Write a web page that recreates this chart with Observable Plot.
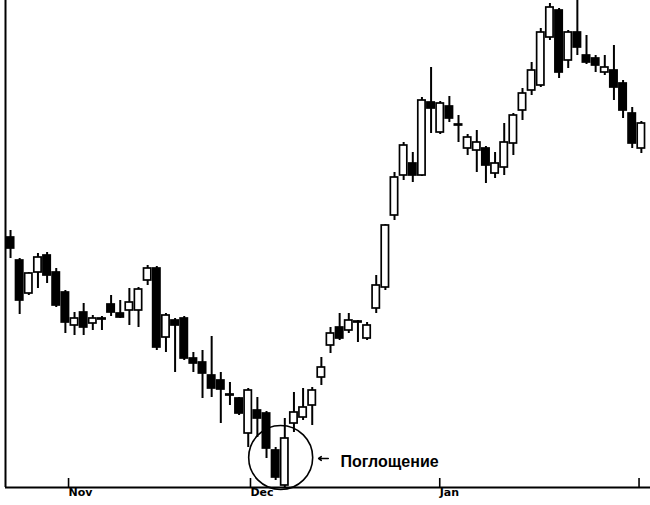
<!DOCTYPE html>
<html>
<head>
<meta charset="utf-8">
<script src="https://cdn.jsdelivr.net/npm/d3@7"></script>
<script src="https://cdn.jsdelivr.net/npm/@observablehq/plot@0.6"></script>
<style>
  html, body { margin: 0; padding: 0; background: #fff; }
  #chart svg { display: block; }
</style>
</head>
<body>
<div id="chart"></div>
<script>
// Daily candles (arbitrary price units)
const openP  = [263,240,207,228,245,228,208,175,188,177,181,196,187,190,190,220,232,163,180,182,142,138,125,120,105,102,67,90,87,50,15,77,83,95,123,155,173,170,178,162,192,213,285,325,337,325,398,368,394,375,352,350,352,327,333,357,390,410,415,463,490,440,468,445,442,428,430,417,387,352];
const highP  = [270,242,228,247,248,232,210,188,197,185,184,205,200,212,213,235,234,187,182,184,148,150,164,128,118,103,112,103,89,53,82,108,112,113,143,173,187,187,180,178,225,276,328,358,348,403,433,399,404,385,366,370,354,348,377,387,412,438,472,497,492,470,500,465,445,445,455,420,393,379];
const lowP   = [242,186,205,212,217,193,167,165,165,170,170,184,182,175,173,215,150,148,128,140,128,102,103,77,95,85,53,63,42,20,12,68,80,75,115,147,160,167,158,160,187,210,280,320,318,324,367,366,378,358,345,328,317,322,325,345,380,405,413,460,422,432,445,436,428,425,400,382,352,347];
const closeP = [252,200,227,243,225,195,178,182,173,182,182,188,183,198,211,232,153,185,175,142,137,127,112,111,106,87,110,82,52,23,62,88,93,110,133,167,162,180,179,175,215,275,323,355,325,400,392,397,382,376,363,358,335,337,358,385,407,430,468,493,428,468,453,438,435,433,413,390,357,377];

// Month ticks (positions in trading-day index) and labels
const tickPos = [5.8, 25.7, 46.4, 68.2];
const tickLabels = ["Nov", "Dec", "Jan", ""];

// Annotation
const noteText = ["Поглощение"];
const circleAt = [{i: 29.55, v: 43}];
const arrowAt = [{i1: 34.75, i2: 33.7, v: 42}];
const textAt = [{i: 36.1, v: 39}];

const candles = openP.map((o, i) => ({
  i, o, h: highP[i], l: lowP[i], c: closeP[i],
  up: closeP[i] >= o
}));

const half = 0.4;
const chart = Plot.plot({
  width: 650,
  height: 505,
  marginLeft: 5,
  marginRight: 0,
  marginTop: 0,
  marginBottom: 18,
  x: {type: "linear", domain: [-0.55, 70.0], axis: null},
  y: {domain: [13, 500], axis: null},
  style: {background: "#fff"},
  marks: [
    // wicks
    Plot.ruleX(candles, {x: "i", y1: "l", y2: "h", stroke: "#000", strokeWidth: 2}),
    // bodies
    Plot.rect(candles, {
      x1: d => d.i - half, x2: d => d.i + half,
      y1: d => Math.min(d.o, d.c) - (d.o === d.c ? 0.6 : 0),
      y2: d => Math.max(d.o, d.c) + (d.o === d.c ? 0.6 : 0),
      fill: d => d.up ? "#fff" : "#000",
      stroke: "#000", strokeWidth: 1.7
    }),
    // axes lines
    Plot.ruleY([13], {stroke: "#000", strokeWidth: 2}),
    Plot.ruleX([-0.55], {stroke: "#000", strokeWidth: 2}),
    Plot.axisX({
      ticks: tickPos,
      tickFormat: (d, k) => tickLabels[k],
      tickSize: 10,
      tickPadding: 0,
      stroke: "#000",
      strokeWidth: 1.6,
      textAnchor: "start",
      dx: 5,
      dy: -9,
      fontSize: 11,
      fontWeight: 900,
      fill: "#000",
      fontFamily: "DejaVu Sans, Liberation Sans, Arial, sans-serif"
    }),
    // annotation: circle around engulfing pattern
    Plot.dot(circleAt, {x: "i", y: "v", r: 32, stroke: "#000", strokeWidth: 1.6, fill: "none"}),
    Plot.arrow(arrowAt, {x1: "i1", x2: "i2", y1: "v", y2: "v", stroke: "#000", strokeWidth: 1.6, headLength: 6, headAngle: 70}),
    Plot.text(textAt, {
      x: "i", y: "v", text: () => noteText[0],
      textAnchor: "start", fontSize: 16, fontWeight: "bold",
      fill: "#000", fontFamily: "Liberation Sans, Arial, sans-serif"
    })
  ]
});
document.getElementById("chart").appendChild(chart);
</script>
</body>
</html>
